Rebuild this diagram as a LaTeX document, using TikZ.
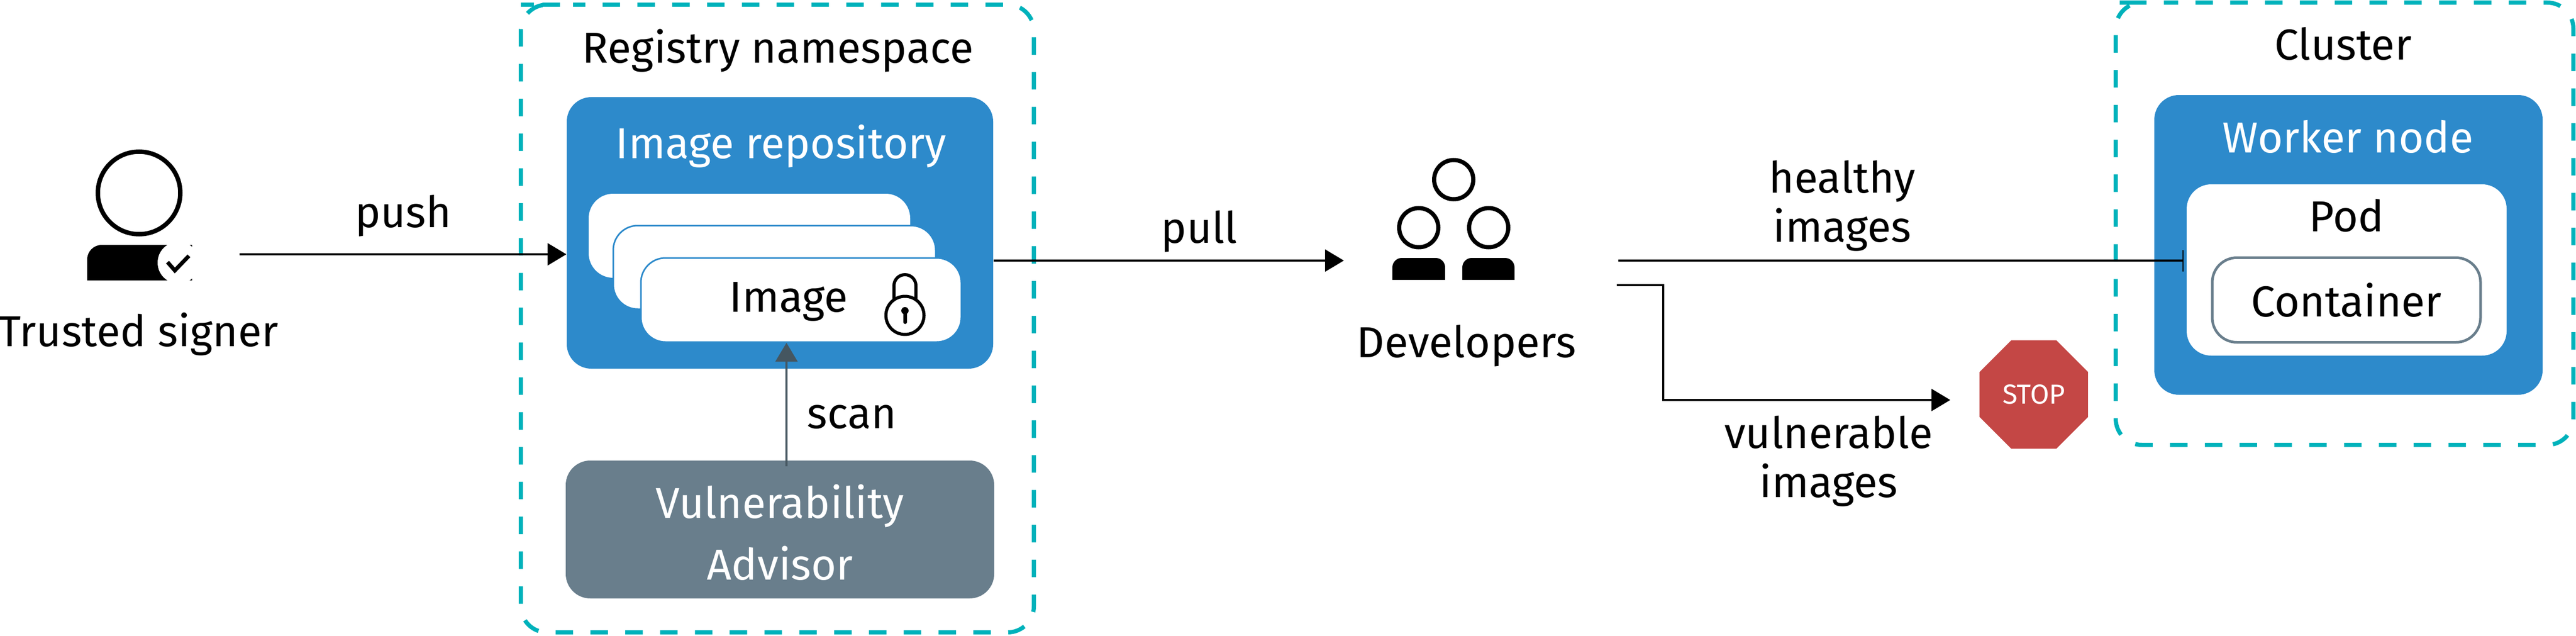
\documentclass[tikz,border=0pt]{standalone}
\usepackage{fontspec}
\setmainfont{Fira Sans}
\usetikzlibrary{arrows.meta,shapes.geometric}
\definecolor{zoneteal}{HTML}{00B2BB}
\definecolor{boxblue}{HTML}{2D8ACB}
\definecolor{boxslate}{HTML}{697E8C}
\definecolor{scandark}{HTML}{455660}
\definecolor{stopred}{HTML}{C44745}

\begin{document}
\begin{tikzpicture}
[zone/.style={draw=zoneteal, line width=.08cm, dash pattern=on .335cm off .332cm, rounded corners=.5cm},
 panel/.style={rounded corners=.47cm, inner sep=0pt},
 label/.style={anchor=base, font=\fontsize{23.6}{26.7}\selectfont, align=center},
 flow/.style={line width=.04cm, -{Triangle[length=.36cm,width=.42cm]}},
 head/.style={circle, draw, line width=.08cm, inner sep=0pt}]

\useasboundingbox (0,0) rectangle (49.36,12.17);

% zones
\draw [zone, dash phase=.1cm] (10.48, 12.08) -- (19.81, 12.08) -- (19.81, .06) -- (9.98, .06) -- (9.98, 12.08) -- cycle;
\draw [zone, dash phase=.14cm] (41.04, 12.12) -- (49.31, 12.12) -- (49.31, 3.65) -- (40.54, 3.65) -- (40.54, 12.12) -- cycle;
\node (registrytitle) at (14.905, 10.96) [label] {Registry namespace};
\node (clustertitle) at (44.895, 11.02) [label] {Cluster};

% image repository
\node (repo) at (14.945, 7.71) [panel, fill=boxblue, minimum width=8.17cm, minimum height=5.2cm] {};
\node (repotitle) at (14.965, 9.14) [label, text=white] {Image repository};
\node (img1) at (14.36, 7.655) [panel, fill=white, minimum width=6.16cm, minimum height=1.61cm] {};
\node (img2) at (14.84, 7.05) [panel, fill=white, draw=boxblue, line width=.03cm, minimum width=6.18cm, minimum height=1.6cm] {};
\node (img3) at (15.35, 6.425) [panel, fill=white, draw=boxblue, line width=.03cm, minimum width=6.14cm, minimum height=1.61cm] {};
\node (imgtext) at (15.11, 6.2) [label] {Image};
\draw [line width=.06cm] (17.13, 6.42) -- (17.13, 6.7) arc (180:0:.21) -- (17.55, 6.42);
\node (lock) at (17.34, 6.13) [circle, draw, fill=white, line width=.06cm, minimum size=.73cm, inner sep=0pt] {};
\fill (17.34, 6.22) circle (.07);
\draw [line width=.07cm, line cap=round] (17.34, 6.22) -- (17.34, 6.0);

% vulnerability advisor
\node (advisor) at (14.945, 2.03) [panel, fill=boxslate, minimum width=8.21cm, minimum height=2.64cm] {};
\node (advisortext) at (14.945, 1.07) [label, text=white, font=\fontsize{23.6}{33.45}\selectfont] {Vulnerability\\Advisor};
\coordinate (scanout) at (15.07, 3.24);
\draw [flow, draw=scandark, fill=scandark] (scanout) -- (scanout |- img3.south);
\node (scan) at (16.325, 3.97) [label] {scan};

% trusted signer
\node (signerhead) at (2.665, 8.475) [head, line width=.085cm, minimum size=1.58cm] {};
\fill (1.67, 6.8) -- (1.67, 7.2) arc (180:90:.28) -- (3.68, 7.48) -- (3.68, 6.8) -- cycle;
\node (badge) at (3.42, 7.14) [circle, fill=white, minimum size=.8cm, inner sep=0pt] {};
\draw [line width=.075cm] (3.21, 7.15) -- (3.35, 6.99) -- (3.62, 7.27);
\node (signer) at (2.655, 5.54) [label] {Trusted signer};
\coordinate (pushout) at (4.59, 7.3);
\draw [flow] (pushout) -- (pushout -| repo.west);
\node (push) at (7.725, 7.82) [label] {push};

% developers
\node (dev1) at (27.855, 8.73) [head, minimum size=.75cm] {};
\node (dev2) at (27.185, 7.81) [head, minimum size=.75cm] {};
\node (dev3) at (28.525, 7.81) [head, minimum size=.75cm] {};
\fill (26.68, 6.81) -- (26.68, 7.05) arc (180:90:.18) -- (27.51, 7.23) arc (90:0:.18) -- (27.69, 6.81) -- cycle;
\fill (28.02, 6.81) -- (28.02, 7.05) arc (180:90:.18) -- (28.84, 7.23) arc (90:0:.18) -- (29.02, 6.81) -- cycle;
\node (developers) at (28.1, 5.33) [label] {Developers};
\coordinate (devin) at (25.75, 7.18);
\draw [flow] (repo.east |- devin) -- (devin);
\node (pull) at (22.98, 7.52) [label] {pull};

% cluster content
\node (worker) at (45, 7.48) [panel, fill=boxblue, minimum width=7.44cm, minimum height=5.74cm] {};
\node (workertitle) at (44.99, 9.25) [label, text=white] {Worker node};
\node (pod) at (44.965, 7) [panel, fill=white, minimum width=6.13cm, minimum height=3.28cm] {};
\node (podtitle) at (44.965, 7.74) [label] {Pod};
\node (container) at (44.96, 6.425) [panel, draw=boxslate, line width=.05cm, font=\fontsize{23.6}{26.7}\selectfont, minimum width=5.14cm, minimum height=1.62cm] {Container};

% healthy and vulnerable paths
\coordinate (devout) at (31.01, 7.18);
\draw [line width=.04cm, -{Bar[width=.41cm,line width=.02cm]}, shorten >=.05cm] (devout) -- (devout -| pod.west);
\node (healthy) at (35.3, 7.54) [label] {healthy\\images};
\coordinate (vulnout) at (30.98, 6.71);
\coordinate (vulnin) at (37.37, 4.51);
\draw [flow] (vulnout) -- ++(.89, 0) |- (vulnin);
\node (vulnerable) at (35.04, 2.65) [label] {vulnerable\\images};
\node (stop) at (38.97, 4.615) [regular polygon, regular polygon sides=8, fill=stopred, text=white, font=\fontsize{15}{18}\selectfont, minimum size=2.25cm, inner sep=0pt] {STOP};
\end{tikzpicture}
\end{document}
